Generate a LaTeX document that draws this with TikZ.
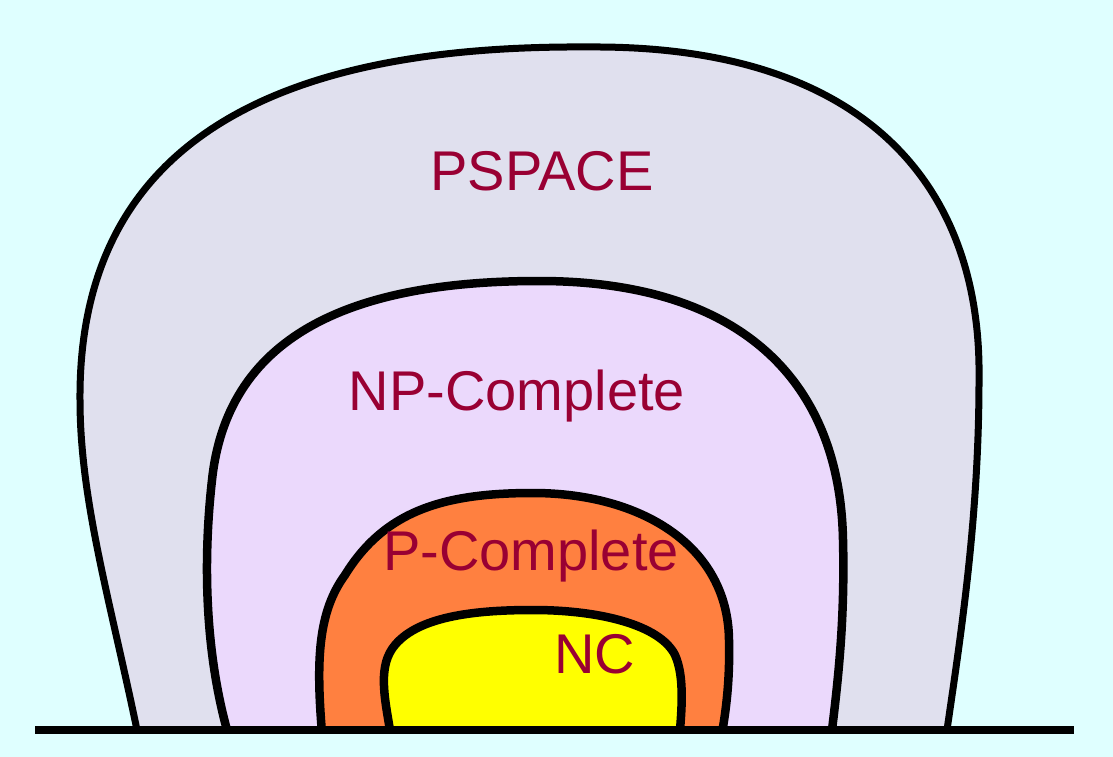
\documentclass[tikz,border=0pt]{standalone}
\usepackage{xcolor}
\usepackage{fontspec}
\setmainfont{Liberation Sans}
\definecolor{bgcyan}{HTML}{DFFFFF}
\definecolor{pspacefill}{HTML}{E0E0EE}
\definecolor{npfill}{HTML}{EBD9FC}
\definecolor{pfill}{HTML}{FF8040}
\definecolor{ncfill}{HTML}{FFFF00}
\definecolor{classtext}{HTML}{990033}

\begin{document}
\begin{tikzpicture}[x=1pt,y=-1pt,
  every node/.style={font=\fontsize{56}{60}\selectfont},
  region/.style={draw=black,line width=8.5pt,line join=round},
  classname/.style={text=classtext,anchor=base,inner sep=0pt},
  ground/.style={line width=8pt}]
\fill[bgcyan] (0,0) rectangle (1113,757);
\useasboundingbox (0,0) rectangle (1113,757);
\draw[region,line width=7pt,fill=pspacefill] (137,730)
  .. controls (110,600) and (80,500) .. (80,400)
  .. controls (78,115) and (320,45) .. (589,47)
  .. controls (870,45) and (982,190) .. (979,380)
  .. controls (979,520) and (960,640) .. (947,730);
\draw[region,fill=npfill] (227,730)
  .. controls (205,650) and (203,560) .. (212,480)
  .. controls (228,330) and (360,281) .. (539,281)
  .. controls (740,281) and (840,380) .. (843,540)
  .. controls (845,620) and (838,680) .. (832,730);
\draw[region,fill=pfill] (322,733)
  .. controls (316,660) and (318,612) .. (345,575)
  .. controls (385,510) and (445,493) .. (533,493)
  .. controls (640,493) and (728,545) .. (729,640)
  .. controls (730,680) and (726,710) .. (722,733);
\draw[region,fill=ncfill] (390,730)
  .. controls (384,695) and (378,665) .. (395,645)
  .. controls (420,615) and (480,610) .. (533,610)
  .. controls (600,610) and (660,625) .. (675,655)
  .. controls (684,675) and (682,705) .. (680,730);
\coordinate (groundL) at (35,730);
\coordinate (groundR) at (1074,730);
\draw[ground] (groundL) -- (groundR);
\node[classname] (pspace) at (542,190) {PSPACE};
\node[classname] (npc) at (517,410) {NP-Complete};
\node[classname] (pc) at (531,570) {P-Complete};
\node[classname] (nc) at (595,673) {NC};
\end{tikzpicture}
\end{document}
